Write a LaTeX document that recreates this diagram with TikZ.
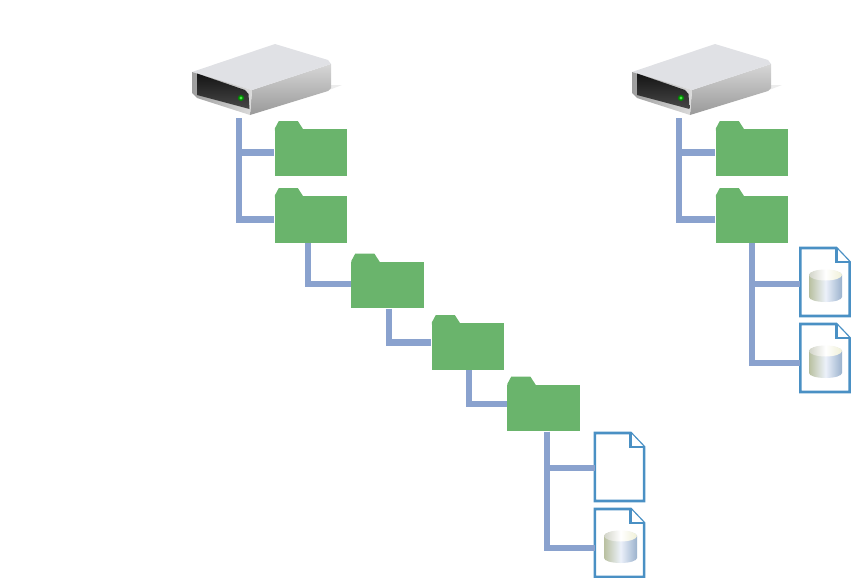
\documentclass[tikz,border=0pt]{standalone}
\usetikzlibrary{calc}
\definecolor{foldergreen}{RGB}{106,180,108}
\definecolor{linkblue}{RGB}{138,162,206}
\definecolor{docblue}{RGB}{74,144,196}
\definecolor{cylleft}{RGB}{185,192,160}
\definecolor{cylmid}{RGB}{236,241,250}
\definecolor{cylright}{RGB}{155,178,205}
\definecolor{capleft}{RGB}{210,212,200}
\definecolor{capright}{RGB}{240,240,215}
\definecolor{drivetop}{RGB}{224,225,229}
\tikzset{
  x=0.75pt,y=-0.75pt,
  folderbody/.style={rectangle,fill=foldergreen,draw=none,inner sep=0pt,minimum width=54.4pt,minimum height=35pt},
  docbox/.style={rectangle,draw=none,inner sep=0pt,minimum width=36.5pt,minimum height=50.5pt},
  docline/.style={draw=docblue,line width=2pt,fill=white,line join=miter},
  conn/.style={draw=linkblue,line width=5pt,line join=miter}
}
% folder: name, centre x, centre y of body
\newcommand{\folderat}[3]{%
  \fill[foldergreen] ($(#2,#3)+(-36.2,-22)$) -- ++(0,-2) -- ++(4,-7.5) -- ++(19,0) -- ++(5.5,8.5) -- ++(0,3) -- cycle;
  \node[folderbody] (#1) at (#2,#3) {};
}
% cylinder, local origin at top-left of its box (33x33)
\newcommand{\cylat}[2]{%
  \begin{scope}[shift={(#1,#2)}]
    \shade[left color=cylleft,right color=cylright,middle color=cylmid]
      (0,6) -- (0,28) arc[x radius=16.5,y radius=5,start angle=180,end angle=0] -- (33,6) arc[x radius=16.5,y radius=5,start angle=0,end angle=-180] -- cycle;
    \shade[left color=capleft,right color=capright,middle color=white] (16.5,6) ellipse[x radius=16.5,y radius=5.5];
  \end{scope}
}
% document: name, centre x, centre y
\newcommand{\docat}[3]{%
  \node[docbox] (#1) at (#2,#3) {};
  \path[docline] (#1.north west) -- ([xshift=-10pt]#1.north east) -- ([yshift=-10.5pt]#1.north east) -- (#1.south east) -- (#1.south west) -- cycle;
  \path[docline] ([xshift=-10pt]#1.north east) -- ([xshift=-10pt,yshift=-10.5pt]#1.north east) -- ([yshift=-10.5pt]#1.north east);
}
% drive: origin is the left corner of the top face
\newcommand{\driveat}[2]{%
  \begin{scope}[shift={(#1,#2)}]
    \fill[black!7] (132,20) -- (150,13) -- (139,13) -- cycle;
    \shade[top color=black!16,bottom color=black!40] (60,18) -- (139,-8) -- (139,16) -- (136,19) -- (58,43) -- cycle;
    \fill[drivetop] (0,0) -- (83,-28) -- (136,-12) to[bend left=20] (139,-8) -- (60,18) -- cycle;
    \shade[left color=black!38,right color=black!14] (0,0) -- (60,18) -- (58,43) -- (5,26) to[bend left=10] (0,21) -- cycle;
    \shade[top color=black!92,bottom color=black!72] (5,1.5) -- (53,18) to[bend left=15] (56.5,22) -- (57.5,37) -- (5,23) -- cycle;
    \fill[green!55!black] (49,26) circle[radius=3];
    \fill[green!85!black!70!white] (49,26) circle[radius=1.6];
  \end{scope}
}
\begin{document}
\begin{tikzpicture}
  \useasboundingbox (0,0) rectangle (851,578);
  \driveat{192}{72}
  \driveat{632}{72}
  \coordinate (port1) at (239,118);
  \coordinate (port2) at (679,118);
  \folderat{f1}{311}{152.5}
  \folderat{f2}{311}{219.5}
  \folderat{f3}{387.5}{285}
  \folderat{f4}{468}{346.5}
  \folderat{f5}{543.5}{408}
  \folderat{f6}{752}{152.5}
  \folderat{f7}{752}{219.5}
  \docat{d1}{619.5}{467}
  \docat{d2}{619.5}{543}
  \cylat{604}{530}
  \docat{d3}{825}{282}
  \docat{d4}{825}{358}
  \cylat{809}{269}
  \cylat{809}{345}
  \draw[conn] (port1) |- (f1.west);
  \draw[conn] (port1) |- (f2.west);
  \draw[conn] (port2) |- (f6.west);
  \draw[conn] (port2) |- (f7.west);
  \draw[conn] ([xshift=-2.25pt]f2.south) |- ([yshift=.75pt]f3.west);
  \draw[conn] ([xshift=1.1pt]f3.south) |- ([yshift=3pt]f4.west);
  \draw[conn] ([xshift=.75pt]f4.south) |- ([yshift=3pt]f5.west);
  \draw[conn] ([xshift=2.6pt]f5.south) |- ([yshift=-.75pt]d1.west);
  \draw[conn] ([xshift=2.6pt]f5.south) |- ([yshift=-3.75pt]d2.west);
  \draw[conn] (f7.south) |- ([yshift=-1.5pt]d3.west);
  \draw[conn] (f7.south) |- ([yshift=-3.75pt]d4.west);
\end{tikzpicture}
\end{document}
